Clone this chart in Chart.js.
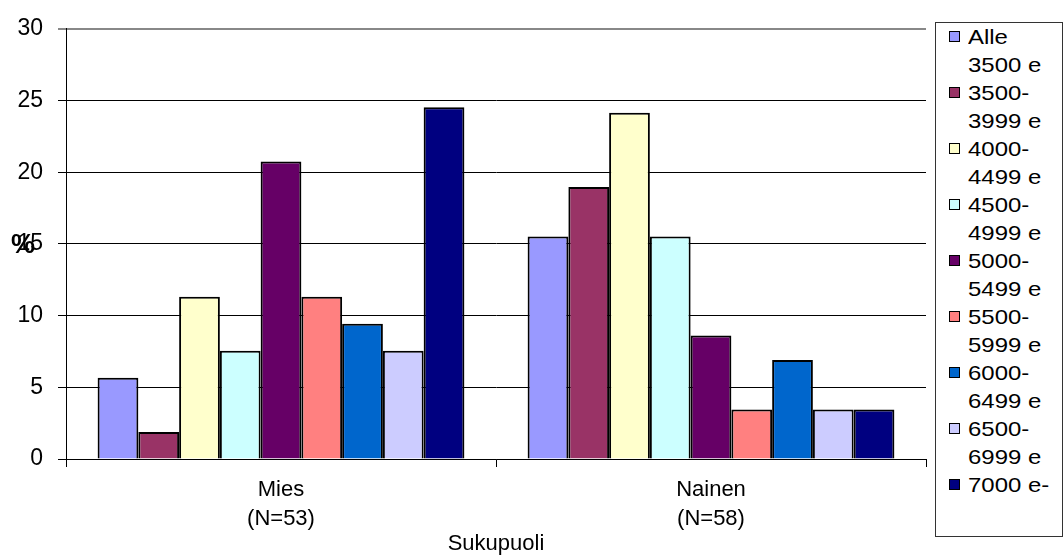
<!DOCTYPE html>
<html>
<head>
<meta charset="utf-8">
<script src="https://cdn.jsdelivr.net/npm/chart.js@4/dist/chart.umd.min.js"></script>
<style>
    body { margin: 0; background: #fff; font-family: "Liberation Sans", Arial, sans-serif; }
    #wrap { position: relative; width: 1064px; height: 555px; }
    #chart-box { position: absolute; left: 0; top: 0; width: 930px; height: 555px; }
    #legend {
        position: absolute; left: 935px; top: 22px; width: 128px; height: 515px;
        box-sizing: border-box; border: 1px solid #333; padding: 0; margin: 0;
        list-style: none; font-size: 21px; color: #000;
    }
    #legend li { position: relative; padding-left: 32px; line-height: 28px; }
    #legend .txt { display: inline-block; transform: scaleX(1.14); transform-origin: left center; white-space: nowrap; }
    #legend .swatch {
        position: absolute; left: 13px; top: 8px; width: 9px; height: 9px;
        border: 1.5px solid #000;
    }
</style>
</head>
<body>
<div id="wrap">
    <div id="chart-box"><canvas id="salary-chart"></canvas></div>
    <ul id="legend"></ul>
</div>
<script>
// Datos
const categories = [['Mies', '(N=53)'], ['Nainen', '(N=58)']];
const seriesLabels = [
    ['Alle', '3500 e'], ['3500-', '3999 e'], ['4000-', '4499 e'],
    ['4500-', '4999 e'], ['5000-', '5499 e'], ['5500-', '5999 e'],
    ['6000-', '6499 e'], ['6500-', '6999 e'], ['7000 e-']
];
const seriesColors = ['#9999FF', '#993366', '#FFFFCC', '#CCFFFF', '#660066', '#FF8080', '#0066CC', '#CCCCFF', '#000080'];
const miesValues = [5.66, 1.89, 11.32, 7.55, 20.75, 11.32, 9.43, 7.55, 24.53];
const nainenValues = [15.52, 18.97, 24.14, 15.52, 8.62, 3.45, 6.9, 3.45, 3.45];
const yTicks = [0, 5, 10, 15, 20, 25, 30];
const xTitle = 'Sukupuoli';
const yTitle = '%';

const FONT = '"Liberation Sans", Arial, sans-serif';
const FSIZE = 22;

// Leyenda HTML con cuadro
function renderLegend() {
    const list = document.getElementById('legend');
    list.innerHTML = seriesLabels.map((lines, i) => `
        <li><span class="swatch" style="background:${seriesColors[i]}"></span>${lines.map(l => `<span class="txt">${l}</span>`).join('<br>')}</li>
    `).join('');
}

// Título del eje Y, encima de la etiqueta 15 como en el original
const yTitlePlugin = {
    id: 'yTitle',
    afterDraw(chart) {
        const ctx = chart.ctx;
        const y = chart.scales.y.getPixelForValue(15);
        ctx.save();
        ctx.font = 'bold 27px ' + FONT;
        ctx.fillStyle = '#000';
        ctx.textBaseline = 'middle';
        ctx.fillText(yTitle, 11, y + 2);
        ctx.restore();
    }
};

function initChart() {
    const ctx = document.getElementById('salary-chart').getContext('2d');
    new Chart(ctx, {
        type: 'bar',
        data: {
            labels: categories,
            datasets: seriesLabels.map((lines, i) => ({
                label: lines.join(' '),
                data: [miesValues[i], nainenValues[i]],
                backgroundColor: seriesColors[i],
                borderColor: '#000',
                borderWidth: 2,
                categoryPercentage: 0.853,
                barPercentage: 1
            }))
        },
        options: {
            responsive: true,
            maintainAspectRatio: false,
            animation: false,
            layout: { padding: { top: 23, right: 4, left: 0, bottom: 0 } },
            plugins: { legend: { display: false }, tooltip: { enabled: false } },
            scales: {
                x: {
                    grid: { drawOnChartArea: false, tickLength: 8, color: '#000', offset: true },
                    border: { color: '#000', width: 1 },
                    ticks: { color: '#000', font: { family: FONT, size: FSIZE, lineHeight: 1.3 }, padding: 9, maxRotation: 0 },
                    title: { display: true, text: xTitle, color: '#000', font: { family: FONT, size: FSIZE, lineHeight: 1.05 }, padding: { top: 0, bottom: 0 } },
                    afterFit: s => { s.height = 96; }
                },
                y: {
                    min: 0, max: 30,
                    afterBuildTicks: s => { s.ticks = yTicks.map(v => ({ value: v })); },
                    grid: {
                        tickLength: 8,
                        color: c => c.tick && c.tick.value === 30 ? '#888' : '#000',
                        lineWidth: c => c.tick && c.tick.value === 30 ? 2 : 1
                    },
                    border: { color: '#000', width: 1 },
                    ticks: { color: '#000', font: { family: FONT, size: 23 }, padding: 15 },
                    afterFit: s => { s.width = 66; }
                }
            }
        },
        plugins: [yTitlePlugin]
    });
}

renderLegend();
initChart();
</script>
</body>
</html>
